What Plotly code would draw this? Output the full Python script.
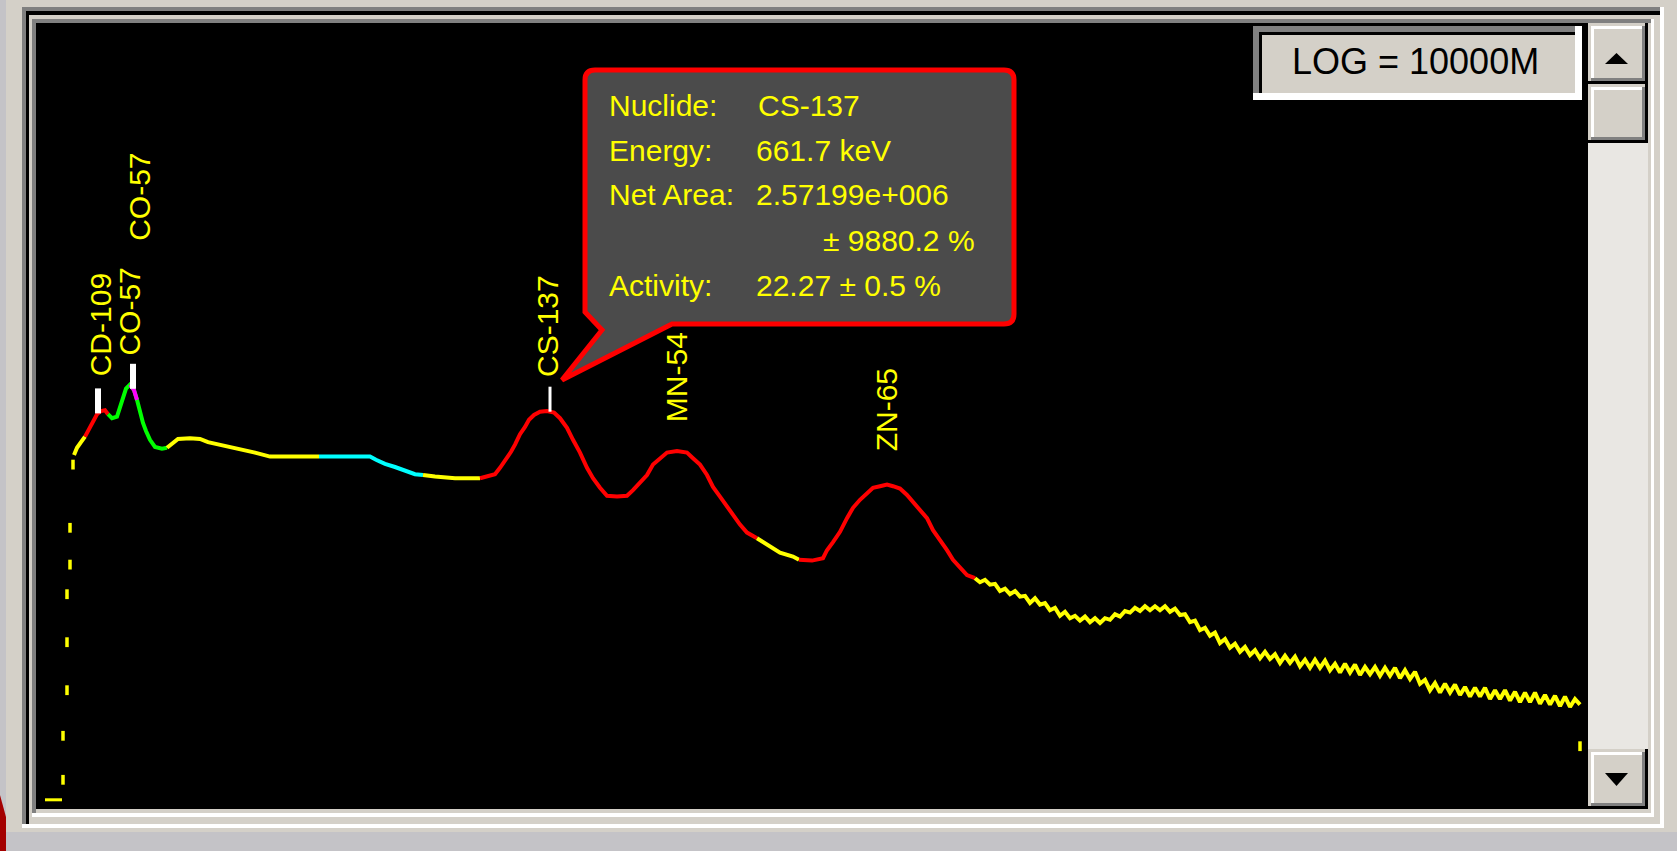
import numpy as np
import plotly.graph_objects as go

# ---------------- data ----------------
# spectrum: channel number and log10(counts) (display is LOG, full scale 1e10)
channels = [38, 41, 45, 49, 52, 55, 58, 61, 65, 69,
            72, 76, 81, 84, 87, 90, 94, 98, 101, 104,
            107, 110, 114, 119, 126, 131, 136, 142, 154, 164,
            172, 184, 199, 219, 234, 264, 283, 309, 334, 340,
            349, 359, 369, 379, 387, 399, 419, 444, 454, 459,
            464, 470, 475, 479, 484, 489, 493, 498, 504, 511,
            518, 524, 531, 537, 544, 551, 557, 564, 571, 581,
            591, 597, 604, 611, 617, 624, 631, 641, 651, 657,
            664, 671, 677, 684, 691, 697, 704, 711, 721, 731,
            744, 757, 763, 776, 787, 791, 797, 804, 811, 817,
            824, 831, 837, 844, 851, 857, 864, 871, 877, 884,
            891, 897, 904, 911, 917, 924, 931]
log_counts = [4.60, 4.69, 4.76, 4.83, 4.90, 4.98, 5.05, 5.11, 5.15, 5.16,
              5.11, 5.06, 5.08, 5.19, 5.33, 5.43, 5.48, 5.41, 5.29, 5.14,
              5.00, 4.90, 4.79, 4.70, 4.68, 4.69, 4.74, 4.80, 4.81, 4.80,
              4.76, 4.73, 4.68, 4.63, 4.58, 4.58, 4.58, 4.58, 4.58, 4.54,
              4.49, 4.45, 4.40, 4.36, 4.35, 4.33, 4.31, 4.31, 4.34, 4.36,
              4.44, 4.54, 4.64, 4.73, 4.86, 4.95, 5.04, 5.10, 5.14, 5.15,
              5.13, 5.06, 4.94, 4.79, 4.63, 4.44, 4.31, 4.19, 4.09, 4.08,
              4.09, 4.16, 4.25, 4.35, 4.48, 4.56, 4.63, 4.65, 4.63, 4.56,
              4.48, 4.35, 4.20, 4.08, 3.95, 3.85, 3.73, 3.63, 3.56, 3.48,
              3.38, 3.33, 3.29, 3.28, 3.31, 3.41, 3.51, 3.64, 3.81, 3.94,
              4.04, 4.13, 4.19, 4.21, 4.23, 4.21, 4.18, 4.10, 4.01, 3.91,
              3.81, 3.66, 3.54, 3.41, 3.29, 3.19, 3.10]

tail_channels = [939, 944, 949, 954, 959, 964, 969, 974, 979, 984,
                 989, 994, 999, 1004, 1009, 1014, 1019, 1024, 1029, 1034,
                 1039, 1044, 1049, 1054, 1059, 1064, 1069, 1074, 1079, 1084,
                 1089, 1094, 1099, 1104, 1109, 1114, 1119, 1124, 1129, 1134,
                 1139, 1144, 1149, 1154, 1159, 1164, 1169, 1174, 1179, 1184,
                 1189, 1194, 1199, 1204, 1209, 1214, 1219, 1224, 1229, 1234,
                 1239, 1244, 1249, 1254, 1259, 1264, 1269, 1274, 1279, 1284,
                 1289, 1294, 1299, 1304, 1309, 1314, 1319, 1324, 1329, 1334,
                 1339, 1344, 1349, 1354, 1359, 1364, 1369, 1374, 1379, 1384,
                 1389, 1394, 1399, 1404, 1409, 1414, 1419, 1424, 1429, 1434,
                 1439, 1444, 1449, 1454, 1459, 1464, 1469, 1474, 1479, 1484,
                 1489, 1494, 1499, 1504, 1509, 1514, 1519, 1524, 1529, 1534,
                 1539, 1544]
tail_log_counts = [3.06, 3.01, 3.04, 2.98, 2.99, 2.90, 2.93, 2.86, 2.90, 2.83,
                   2.84, 2.75, 2.81, 2.73, 2.75, 2.66, 2.69, 2.59, 2.64, 2.56,
                   2.59, 2.53, 2.58, 2.51, 2.56, 2.50, 2.56, 2.54, 2.61, 2.58,
                   2.65, 2.63, 2.69, 2.65, 2.71, 2.66, 2.71, 2.66, 2.71, 2.64,
                   2.68, 2.60, 2.61, 2.51, 2.53, 2.41, 2.44, 2.34, 2.38, 2.25,
                   2.30, 2.19, 2.24, 2.14, 2.20, 2.10, 2.16, 2.06, 2.14, 2.05,
                   2.11, 2.00, 2.09, 2.00, 2.08, 1.96, 2.04, 1.94, 2.04, 1.94,
                   2.03, 1.91, 1.99, 1.88, 1.99, 1.88, 1.98, 1.85, 1.95, 1.86,
                   1.95, 1.84, 1.94, 1.84, 1.94, 1.81, 1.91, 1.80, 1.89, 1.74,
                   1.79, 1.66, 1.75, 1.63, 1.74, 1.63, 1.73, 1.60, 1.70, 1.58,
                   1.69, 1.58, 1.69, 1.55, 1.66, 1.55, 1.66, 1.53, 1.64, 1.51,
                   1.63, 1.51, 1.63, 1.49, 1.60, 1.48, 1.59, 1.46, 1.58, 1.45,
                   1.55, 1.48]

# low channels shown as isolated points
point_channels = [27, 27, 31, 31, 31, 34, 34, 37, 1544]
point_log_counts = [0.54, 1.09, 1.66, 2.26, 2.86, 3.23, 3.69, 4.48, 0.96]
floor_channels = [9, 26]
floor_log_counts = [0.29, 0.29]

# ROI colouring (start channel of each region)
roi_starts = [0, 49, 72, 131, 283, 387, 444, 721, 763, 939]
roi_colors = ["#ffff00", "#ff0000", "#00ff00", "#ffff00", "#00ffff",
              "#ffff00", "#ff0000", "#ffff00", "#ff0000", "#ffff00"]
highlight_range = [94, 101]          # magenta highlight near CO-57 peak

# peak identification labels
peak_names = ["CD-109", "CO-57", "CO-57", "CS-137", "MN-54", "ZN-65"]
peak_channels = [64, 94, 104, 511, 640, 850]
label_offsets_px = [34, 28, 170, 33, 28, 32]
marker_channels = [62, 97, 514]
marker_widths = [6, 6, 3]

# info bubble text
info_labels = ["Nuclide:", "Energy:", "Net Area:", "", "Activity:"]
info_values = ["CS-137", "661.7 keV", "2.57199e+006", "± 9880.2 %", "22.27 ± 0.5 %"]
log_text = "LOG = 10000M"

# ---------------- page geometry ----------------
FW, FH = 1677, 851
L, T, W, H = 36, 23, 1552, 786
Y_RANGE = [0.175, 10.0]
PX_PER_DECADE = H / (Y_RANGE[1] - Y_RANGE[0])


def px(x):
    return (x - L) / W


def py(y):
    return (T + H - y) / H


def rect(x0, y0, x1, y1, color, layer="below"):
    return dict(type="rect", xref="paper", yref="paper",
                x0=px(x0), x1=px(x1), y0=py(y1), y1=py(y0),
                fillcolor=color, line=dict(width=0), layer=layer)


def path(cmds, fill, line_color=None, line_width=0, layer="above"):
    parts = []
    for c, pts in cmds:
        if c == "Z":
            parts.append("Z")
        elif c == "Q":
            for k in range(0, len(pts), 2):
                (x1, y1), (x2, y2) = pts[k], pts[k + 1]
                parts.append(f"Q{px(x1):.5f},{py(y1):.5f} {px(x2):.5f},{py(y2):.5f}")
        else:
            for x, y in pts:
                parts.append(f"{c}{px(x):.5f},{py(y):.5f}")
    return dict(type="path", xref="paper", yref="paper", path=" ".join(parts),
                fillcolor=fill, layer=layer,
                line=dict(width=line_width, color=line_color or fill))


LIGHT, GRAY, WHITE, BLACK = "#d4d0c8", "#808080", "#ffffff", "#000000"
FONT = "Liberation Sans, Arial, sans-serif"

fig = go.Figure()

all_ch = np.array(channels + tail_channels, dtype=float)
all_lc = np.array(log_counts + tail_log_counts)

bounds = roi_starts + [int(all_ch.max())]
for i, color in enumerate(roi_colors):
    m = (all_ch >= bounds[i]) & (all_ch <= bounds[i + 1])
    fig.add_trace(go.Scatter(x=all_ch[m], y=10 ** all_lc[m], mode="lines",
                             line=dict(color=color, width=4), hoverinfo="skip",
                             showlegend=False))

m = (all_ch >= highlight_range[0]) & (all_ch <= highlight_range[1])
fig.add_trace(go.Scatter(x=all_ch[m], y=10 ** all_lc[m], mode="lines",
                         line=dict(color="#ff00ff", width=4), hoverinfo="skip",
                         showlegend=False))

fig.add_trace(go.Scatter(x=floor_channels, y=10 ** np.array(floor_log_counts), mode="lines",
                         line=dict(color="#ffff00", width=3), hoverinfo="skip", showlegend=False))
fig.add_trace(go.Scatter(x=point_channels, y=10 ** np.array(point_log_counts), mode="markers",
                         marker=dict(symbol="line-ns", size=7,
                                     line=dict(width=3.5, color="#ffff00")),
                         hoverinfo="skip", showlegend=False))

# white peak markers (25 px tall on the log scale)
for ch, w in zip(marker_channels, marker_widths):
    lc = float(np.interp(ch, all_ch, all_lc))
    fig.add_trace(go.Scatter(x=[ch, ch], y=[10 ** lc, 10 ** (lc + 25 / PX_PER_DECADE)],
                             mode="lines", line=dict(color="#ffffff", width=w),
                             hoverinfo="skip", showlegend=False))

annotations = []
for name, ch, off in zip(peak_names, peak_channels, label_offsets_px):
    lc = float(np.interp(ch, all_ch, all_lc))
    annotations.append(dict(x=ch, y=lc, xref="x", yref="y", text=name, showarrow=False,
                            textangle=-90, xanchor="center", yanchor="bottom",
                            yshift=off, borderpad=0,
                            font=dict(family=FONT, size=30, color="#ffff00")))

# ---------------- window chrome ----------------
shapes = [
    rect(0, 0, 6, FH, "#c4c3c7"),
    rect(0, 832, FW, FH, "#c4c3c7"),
    rect(22, 7, 1664, 828, WHITE),
    rect(22, 7, 1660, 824, GRAY),
    rect(26, 11, 1660, 824, BLACK),
    rect(29, 15, 1660, 824, LIGHT),
    rect(32, 19, 1654, 817, WHITE),
    rect(32, 19, 1651, 813, GRAY),
    rect(36, 23, 1651, 813, LIGHT),
    rect(36, 23, 1588, 809, BLACK),
]
shapes.append(path([("M", [(0, 795)]), ("L", [(6, 817), (6, FH), (0, FH)]), ("Z", [])],
                   "#a40000", layer="below"))

# scrollbar
shapes.append(rect(1588, 23, 1648, 809, "#e9e7e3", layer="above"))


def button(x0, y0, x1, y1):
    return [rect(x0, y0, x1, y1, BLACK, "above"),
            rect(x0, y0, x1 - 3, y1 - 3, LIGHT, "above"),
            rect(x0 + 3, y0 + 3, x1 - 3, y1 - 3, GRAY, "above"),
            rect(x0 + 3, y0 + 3, x1 - 6, y1 - 6, WHITE, "above"),
            rect(x0 + 6, y0 + 6, x1 - 6, y1 - 6, LIGHT, "above")]


shapes += button(1588, 23, 1648, 84)
shapes += button(1588, 84, 1648, 143)
shapes += button(1588, 749, 1648, 809)
shapes.append(path([("M", [(1605, 64)]), ("L", [(1628, 64), (1616.5, 53)]), ("Z", [])], BLACK))
shapes.append(path([("M", [(1605, 773)]), ("L", [(1628, 773), (1616.5, 786)]), ("Z", [])], BLACK))

# LOG box
shapes += [rect(1253, 26, 1582, 100, WHITE, "above"),
           rect(1253, 26, 1575, 93, GRAY, "above"),
           rect(1259, 32, 1575, 93, BLACK, "above"),
           rect(1262, 35, 1575, 93, LIGHT, "above")]
annotations.append(dict(x=px(1415), y=py(61), xref="paper", yref="paper", text=log_text,
                        showarrow=False, xanchor="center", yanchor="middle",
                        font=dict(family=FONT, size=36, color=BLACK)))

# info bubble
shapes.append(path([("M", [(585, 80)]), ("Q", [(585, 70), (595, 70)]),
                    ("L", [(1004, 70)]), ("Q", [(1014, 70), (1014, 80)]),
                    ("L", [(1014, 314)]), ("Q", [(1014, 324), (1004, 324)]),
                    ("L", [(672, 324), (562, 380), (602, 330), (585, 312)]), ("Z", [])],
                   "#4b4b4b", line_color="#ff0000", line_width=5))

row_y = [106, 150, 195, 240, 285]
value_x = [756, 754, 754, 821, 754]
for lab, val, yy, vx in zip(info_labels, info_values, row_y, value_x):
    if lab:
        annotations.append(dict(x=px(607), y=py(yy), xref="paper", yref="paper", text=lab,
                                showarrow=False, xanchor="left", yanchor="middle",
                                font=dict(family=FONT, size=30, color="#ffff00")))
    annotations.append(dict(x=px(vx), y=py(yy), xref="paper", yref="paper", text=val,
                            showarrow=False, xanchor="left", yanchor="middle",
                            font=dict(family=FONT, size=30, color="#ffff00")))

fig.update_layout(
    width=FW, height=FH,
    margin=dict(l=L, r=FW - L - W, t=T, b=FH - T - H, pad=0),
    paper_bgcolor=LIGHT, plot_bgcolor=BLACK,
    xaxis=dict(range=[0, W], visible=False, fixedrange=True),
    yaxis=dict(type="log", range=Y_RANGE, visible=False, fixedrange=True),
    shapes=shapes, annotations=annotations,
    showlegend=False, hovermode=False,
)

fig.write_html("out.html", config={"displayModeBar": False, "staticPlot": True},
               post_script="document.body.style.margin='0';document.body.style.overflow='hidden';")
